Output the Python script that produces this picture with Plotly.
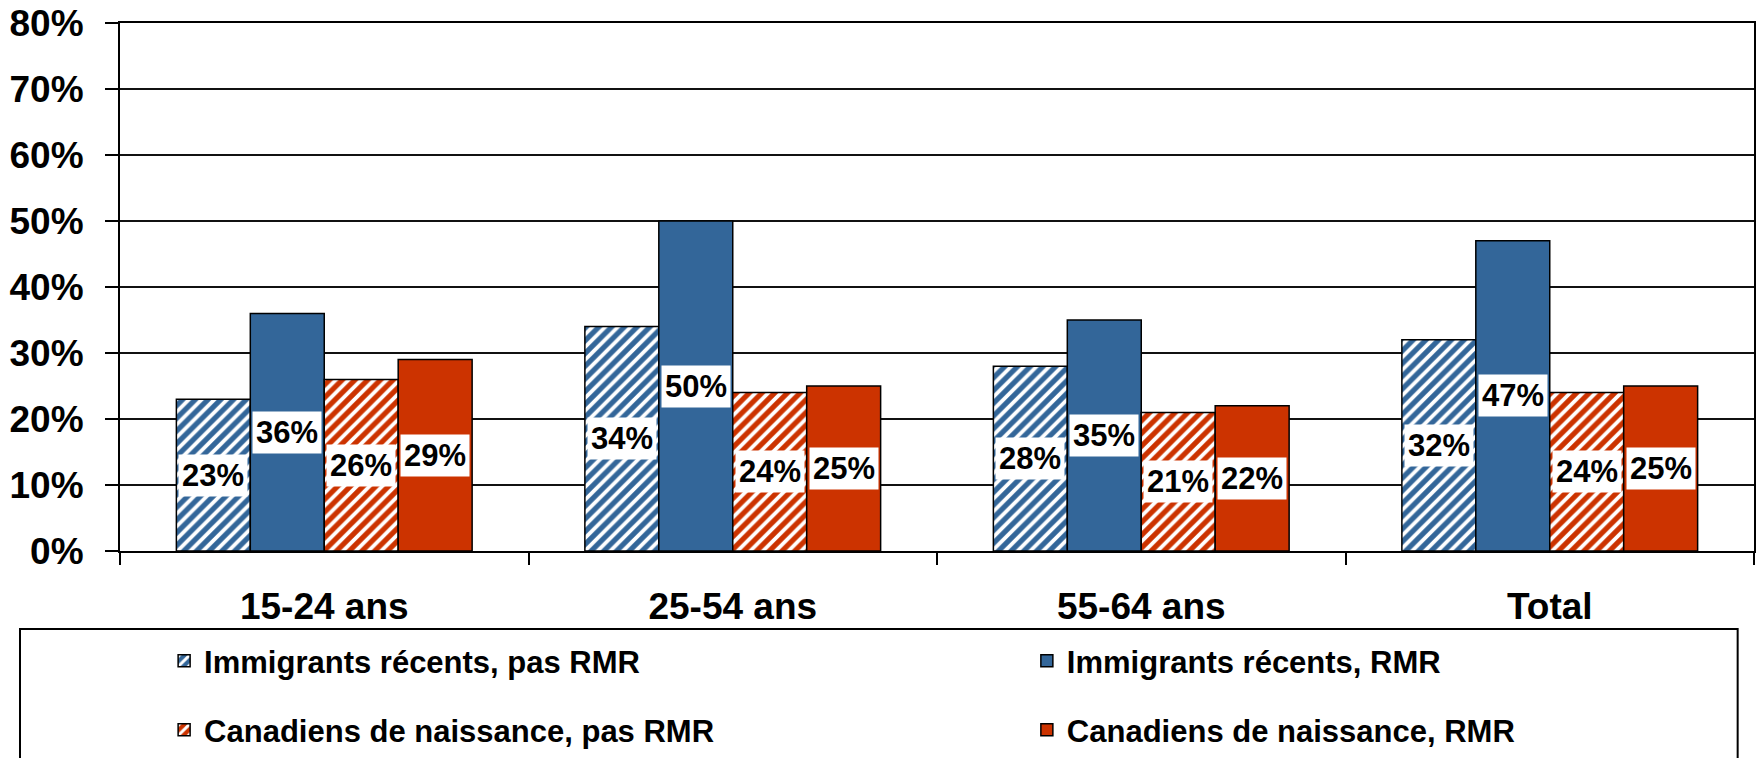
import plotly.graph_objects as go

categories = ["15-24 ans", "25-54 ans", "55-64 ans", "Total"]
series_names = [
    "Immigrants récents, pas RMR",
    "Immigrants récents, RMR",
    "Canadiens de naissance, pas RMR",
    "Canadiens de naissance, RMR",
]
imm_pas_rmr = [23, 34, 28, 32]
imm_rmr = [36, 50, 35, 47]
can_pas_rmr = [26, 24, 21, 24]
can_rmr = [29, 25, 22, 25]
y_ticks = [0, 10, 20, 30, 40, 50, 60, 70, 80]

BLUE = "#336699"
RED = "#CC3300"
FONT = "Liberation Sans, Arial, sans-serif"
BARGAP = 0.276

series = [imm_pas_rmr, imm_rmr, can_pas_rmr, can_rmr]
colors = [BLUE, BLUE, RED, RED]
hatched = [True, False, True, False]
legend_ids = ["legend", "legend2", "legend3", "legend4"]

fig = go.Figure()
for name, vals, col, hat, lg in zip(series_names, series, colors, hatched, legend_ids):
    marker = dict(color=col, line=dict(color="black", width=1.5))
    if hat:
        marker["pattern"] = dict(shape="/", fgcolor="white", bgcolor=col,
                                 size=9, solidity=0.42, fillmode="replace")
    fig.add_trace(go.Bar(x=categories, y=vals, name=name, marker=marker,
                         legend=lg))

# data labels centred in bars with white background
nser = len(series)
w = (1 - BARGAP) / nser
for j, vals in enumerate(series):
    for i, v in enumerate(vals):
        fig.add_annotation(
            x=i + (j - (nser - 1) / 2) * w, y=v / 2, xref="x", yref="y",
            text=f"{v}%", showarrow=False, bgcolor="white", borderpad=3,
            font=dict(family=FONT, size=31, color="black", weight="bold"),
        )

# legend frame
fig.add_shape(type="rect", xref="paper", yref="paper",
              x0=-0.0612, x1=0.990, y0=-0.1477, y1=-0.6,
              line=dict(color="black", width=2), fillcolor="rgba(0,0,0,0)",
              layer="above")

legend_common = dict(
    orientation="h", xanchor="left", yanchor="middle",
    font=dict(family=FONT, size=31, color="black", weight="bold"),
    bgcolor="rgba(0,0,0,0)", borderwidth=0, itemclick=False,
)
col_x = [0.027, 0.555]
row_y = [-0.2083, -0.339]

fig.update_layout(
    width=1756, height=758,
    margin=dict(l=120, r=2, t=23, b=207, autoexpand=False),
    paper_bgcolor="white", plot_bgcolor="white",
    barmode="group", bargap=BARGAP, bargroupgap=0,
    showlegend=True,
    legend=dict(legend_common, x=col_x[0], y=row_y[0]),
    legend2=dict(legend_common, x=col_x[1], y=row_y[0]),
    legend3=dict(legend_common, x=col_x[0], y=row_y[1]),
    legend4=dict(legend_common, x=col_x[1], y=row_y[1]),
    font=dict(family=FONT, color="black"),
)
fig.update_xaxes(
    type="category", showline=True, linecolor="black", linewidth=2, mirror=True,
    ticks="outside", tickson="boundaries", ticklen=12, tickwidth=1.5,
    tickcolor="black", showgrid=False, ticklabelstandoff=22, automargin=False,
    tickfont=dict(family=FONT, size=37, color="black", weight="bold"),
)
fig.update_yaxes(
    range=[0, 80], tickvals=y_ticks, ticktext=[f"{t}%" for t in y_ticks],
    showline=True, linecolor="black", linewidth=2, mirror=True,
    ticks="outside", ticklen=13, tickwidth=1.5, tickcolor="black",
    showgrid=True, gridcolor="#111111", gridwidth=1.5, zeroline=False,
    ticklabelstandoff=14, automargin=False, ticklabeloverflow="allow",
    tickfont=dict(family=FONT, size=37, color="black", weight="bold"),
)

fig.write_html("out.html", config={"displayModeBar": False},
               post_script="document.body.style.margin='0';")
